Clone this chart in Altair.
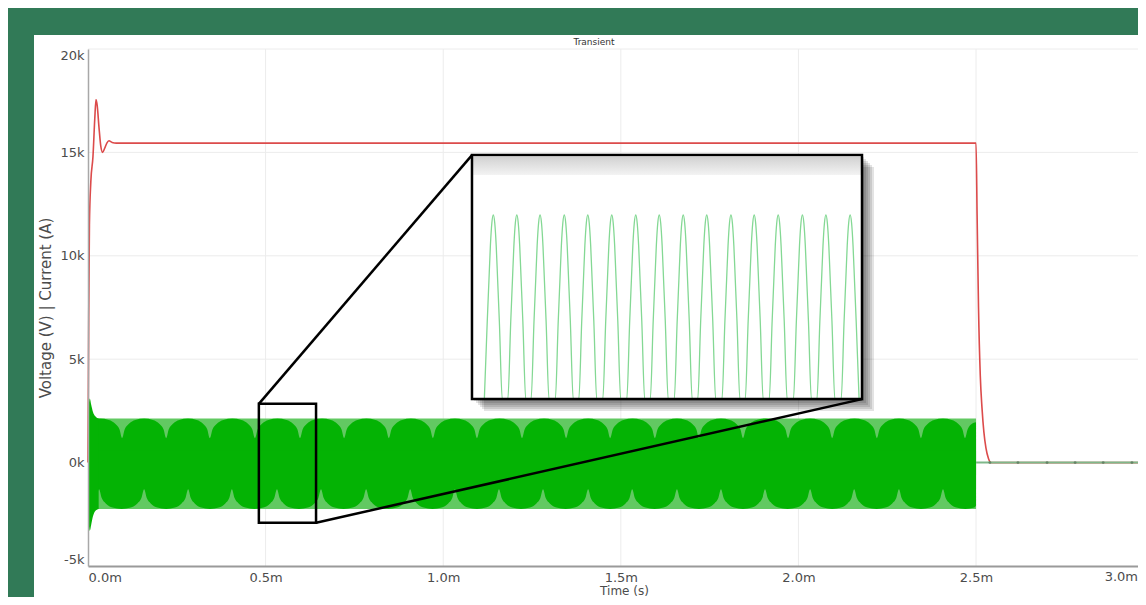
import altair as alt
import pandas as pd

# ---------------- values ----------------
# time in ms, values in V / A
RED_T = [0.000, 0.002, 0.004, 0.008, 0.014, 0.019, 0.0225, 0.026, 0.031, 0.036, 0.041,
         0.047, 0.053, 0.059, 0.068, 0.080, 2.500, 2.503, 2.507, 2.512, 2.517,
         2.522, 2.528, 2.535, 2.542, 2.956]
RED_V = [0, 7000, 11500, 13600, 14800, 16600, 17550, 17250, 16200, 15300, 15000,
         15200, 15450, 15560, 15480, 15450, 15450, 12000, 7500, 4200, 2600,
         1500, 700, 200, 0, 0]

# envelope of the fast current oscillation (light band)
BAND_T = [0.0, 2.5]
BAND_HI = [2130, 2130]
BAND_LO = [-2240, -2240]

# scalloped (dark) region: notch positions on the upper and lower edge
TOP_NOTCH_T = [-0.028, 0.096, 0.220, 0.343, 0.470, 0.597, 0.721, 0.847, 0.971, 1.095,
               1.222, 1.346, 1.470, 1.596, 1.720, 1.844, 1.971, 2.095, 2.221,
               2.345, 2.469, 2.594]
BOT_NOTCH_T = [-0.095, 0.031, 0.158, 0.282, 0.405, 0.532, 0.656, 0.783, 0.907, 1.033,
               1.157, 1.281, 1.408, 1.532, 1.658, 1.782, 1.906, 2.033, 2.157,
               2.283, 2.407, 2.533]
TOP_NOTCH_V, TOP_PEAK_V, TOP_END_V = 1180, 2130, [1950, 1950]
BOT_NOTCH_V, BOT_PEAK_V, BOT_END_V = -1290, -2240, [-2070, -2070]
ARC_F = [0, 0.06, 0.15, 0.30, 0.50, 0.70, 0.85, 0.94, 1.0]
ARC_H = [0, 0.45, 0.72, 0.93, 1.00, 0.93, 0.72, 0.45, 0.0]
ARC_OVERLAP = 600   # the upper and lower dark halves overlap around 0

# start-up transient of the current
TR_T = [0.0, 0.002, 0.005, 0.009, 0.014, 0.020, 0.030]
TR_HI = [0, 2700, 3100, 2800, 2450, 2250, 2130]
TR_LO = [0, -2900, -3300, -3000, -2600, -2350, -2240]

# current after switch-off
ZERO_T = [2.5, 2.956]
ZERO_V = [0, 0]
DOT_T = [2.539, 2.618, 2.700, 2.779, 2.858, 2.939]

# zoom window on the main plot and the callout box (main-plot coordinates)
ZOOM_T = [0.481, 0.642]
ZOOM_V = [-2910, 2840]
BOX_T = [1.081, 2.179]
BOX_V = [3070, 14870]
STRIP_V = [13910, 14780]

# inset content (inset coordinates)
INSET_T = [0.481, 0.642]
INSET_V = [-1410, 3280]
INSET_PEAK_T = [0.4898, 0.4995, 0.5091, 0.5191, 0.5288, 0.5387, 0.5486, 0.5583,
                0.5682, 0.5779, 0.5879, 0.5975, 0.6074, 0.6174, 0.6271, 0.6371]
WAVE_DT = [-0.0037, -0.0025, -0.0018, -0.0012, -0.0006, 0.0,
           0.0006, 0.0012, 0.0018, 0.0025, 0.0037]
WAVE_V = [-1410, 80, 870, 1540, 1975, 2130, 1975, 1540, 870, 80, -1410]

X_TICKS = [0.0, 0.5, 1.0, 1.5, 2.0, 2.5]
Y_TICKS = [-5000, 0, 5000, 10000, 15000, 20000]
EXTRA_X_LABEL = ["3.0m"]
CHART_TITLE = ["Transient"]
SHADOW_STEPS = [2, 4, 6, 8, 10, 12]

# ---------------- tables ----------------
def scallop(notches, notch_v, peak_v, end_v):
    pts = []
    for i, (a, b) in enumerate(zip(notches[:-1], notches[1:])):
        for j, (f, h) in enumerate(zip(ARC_F, ARC_H)):
            if i > 0 and j == 0:
                continue
            pts.append((a + f * (b - a), notch_v + h * (peak_v - notch_v)))
    pts = [p for p in pts if 0.0 < p[0] < 2.5]
    pts = [(0.0, end_v[0])] + pts + [(2.5, end_v[1])]
    return pd.DataFrame(pts, columns=["t", "v"])

top_df = scallop(TOP_NOTCH_T, TOP_NOTCH_V, TOP_PEAK_V, TOP_END_V)
bot_df = scallop(BOT_NOTCH_T, BOT_NOTCH_V, BOT_PEAK_V, BOT_END_V)

wave = []
for p in INSET_PEAK_T:
    for dt, v in zip(WAVE_DT, WAVE_V):
        if INSET_T[0] <= p + dt <= INSET_T[1]:
            wave.append((p + dt, v))
def to_main_t(t):
    return BOX_T[0] + (t - INSET_T[0]) / (INSET_T[1] - INSET_T[0]) * (BOX_T[1] - BOX_T[0])
def to_main_v(v):
    return BOX_V[0] + (v - INSET_V[0]) / (INSET_V[1] - INSET_V[0]) * (BOX_V[1] - BOX_V[0])
wave_df = pd.DataFrame({"t": [to_main_t(t) for t, _ in wave], "v": [to_main_v(v) for _, v in wave]})

red_df = pd.DataFrame({"t": RED_T, "v": RED_V})
band_df = pd.DataFrame({"t": BAND_T, "hi": BAND_HI, "lo": BAND_LO})
tr_df = pd.DataFrame({"t": TR_T, "hi": TR_HI, "lo": TR_LO})
zero_df = pd.DataFrame({"t": ZERO_T, "v": ZERO_V})
dot_df = pd.DataFrame({"t": DOT_T, "v": [0] * len(DOT_T)})
zoom_df = pd.DataFrame({"t": [ZOOM_T[0]], "t2": [ZOOM_T[1]], "v": [ZOOM_V[0]], "v2": [ZOOM_V[1]]})
box_df = pd.DataFrame({"t": [BOX_T[0]], "t2": [BOX_T[1]], "v": [BOX_V[0]], "v2": [BOX_V[1]]})
strip_df = pd.DataFrame({"t": [BOX_T[0]], "t2": [BOX_T[1]], "v": [STRIP_V[0]], "v2": [STRIP_V[1]]})
call_df = pd.DataFrame({"t": [ZOOM_T[0], ZOOM_T[1]], "v": [ZOOM_V[1], ZOOM_V[0]],
                        "t2": [BOX_T[0], BOX_T[1]], "v2": [BOX_V[1], BOX_V[0]]})
xgrid_df = pd.DataFrame({"t": X_TICKS[1:]})
ygrid_df = pd.DataFrame({"v": Y_TICKS[1:]})
lab_df = pd.DataFrame({"txt": EXTRA_X_LABEL})
title_df = pd.DataFrame({"txt": CHART_TITLE})

# ---------------- layout ----------------
W, H = 1050, 517
FONT = "DejaVu Sans"
GREY = "#4c4c4c"
XS = alt.Scale(domain=[0, 2.956], nice=False, zero=False)
YS = alt.Scale(domain=[-5000, 20000], nice=False, zero=False)
XA = alt.Axis(values=X_TICKS, labelExpr="format(datum.value, '.1f') + 'm'", labelFlush=True,
              ticks=False, grid=False, domainColor="#9a9a9a", domainWidth=2,
              labelPadding=5, labelFontSize=13, labelFont=FONT, labelColor=GREY,
              title="Time (s)", titleFont=FONT, titleFontSize=12, titleFontWeight="normal",
              titleColor=GREY, titleX=536, titleY=19, titleBaseline="top", zindex=1)
YA = alt.Axis(values=Y_TICKS, labelExpr="datum.value / 1000 + 'k'", labelFlush=True,
              ticks=False, grid=False, domainColor="#a8a8a8", domainWidth=1.5,
              labelPadding=4, labelFontSize=13, labelFont=FONT, labelColor=GREY,
              title="Voltage (V) | Current (A)", titleFont=FONT, titleFontSize=15,
              titleFontWeight="normal", titleColor=GREY, titleX=-43, titleY=H / 2,
              titleAngle=270, titleBaseline="middle", titleAlign="center", zindex=1)

def X(f):
    return alt.X(f, type="quantitative", scale=XS, axis=XA)
def Y(f):
    return alt.Y(f, type="quantitative", scale=YS, axis=YA)

DARK = "#04b304"
LIGHT = "#62c962"

panel = alt.Chart(pd.DataFrame({"a": [0]})).mark_rect(color="white").encode(
    x=alt.value(-54), x2=alt.value(W + 20), y=alt.value(-14), y2=alt.value(H + 60))
title_txt = alt.Chart(title_df).mark_text(font=FONT, fontSize=9, color="#333333",
                                          align="center", baseline="middle").encode(
    x=alt.value(506), y=alt.value(-7), text="txt:N")
xgrid = alt.Chart(xgrid_df).mark_rule(color="#ececec", strokeWidth=1).encode(x=X("t"))
ygrid = alt.Chart(ygrid_df).mark_rule(color="#ececec", strokeWidth=1).encode(y=Y("v"))
band = alt.Chart(band_df).mark_area(color=LIGHT).encode(x=X("t"), y=Y("hi"), y2="lo")
top_area = alt.Chart(top_df).mark_area(color=DARK, interpolate="monotone").encode(
    x=X("t"), y=Y("v"), y2=alt.datum(-ARC_OVERLAP))
bot_area = alt.Chart(bot_df).mark_area(color=DARK, interpolate="monotone").encode(
    x=X("t"), y=Y("v"), y2=alt.datum(ARC_OVERLAP))
trans = alt.Chart(tr_df).mark_area(color=DARK, interpolate="monotone").encode(
    x=X("t"), y=Y("hi"), y2="lo")
red = alt.Chart(red_df).mark_line(color="#dc4b4b", strokeWidth=1.6, interpolate="monotone").encode(
    x=X("t"), y=Y("v"))
zero = alt.Chart(zero_df).mark_line(color="#7fb88a", strokeWidth=2).encode(x=X("t"), y=Y("v"))
dots = alt.Chart(dot_df).mark_point(color="#5a7a5e", filled=True, size=8, opacity=0.8).encode(
    x=X("t"), y=Y("v"))
zoom_rect = alt.Chart(zoom_df).mark_rect(fillOpacity=0, stroke="black", strokeWidth=2.5).encode(
    x=X("t"), x2="t2", y=Y("v"), y2="v2")
callout = alt.Chart(call_df).mark_rule(color="black", strokeWidth=2.5).encode(
    x=X("t"), y=Y("v"), x2="t2", y2="v2")
shadows = [alt.Chart(box_df).mark_rect(color="black", opacity=0.11, xOffset=k, x2Offset=k,
                                        yOffset=k, y2Offset=k).encode(
    x=X("t"), x2="t2", y=Y("v"), y2="v2") for k in SHADOW_STEPS]
box_fill = alt.Chart(box_df).mark_rect(color="white").encode(x=X("t"), x2="t2", y=Y("v"), y2="v2")
strip = alt.Chart(strip_df).mark_rect(
    color=alt.Gradient(gradient="linear",
                       stops=[alt.GradientStop(color="#d2d2d2", offset=0),
                              alt.GradientStop(color="#f3f3f3", offset=1)],
                       x1=0, x2=0, y1=0, y2=1)).encode(x=X("t"), x2="t2", y=Y("v"), y2="v2")
wave_line = alt.Chart(wave_df).mark_line(color="#84d894", strokeWidth=1.3, interpolate="monotone").encode(
    x=X("t"), y=Y("v"), order="t:Q")
box_border = alt.Chart(box_df).mark_rect(fillOpacity=0, stroke="black", strokeWidth=2.5).encode(
    x=X("t"), x2="t2", y=Y("v"), y2="v2")
label3 = alt.Chart(lab_df).mark_text(align="right", baseline="top", font=FONT, fontSize=13,
                                     color=GREY).encode(x=alt.value(W), y=alt.value(H + 5), text="txt:N")

chart = alt.layer(
    panel, title_txt, xgrid, ygrid, band, top_area, bot_area, trans, red, zero, dots,
    zoom_rect, callout, *shadows, box_fill, strip, wave_line, box_border, label3
).properties(
    width=W, height=H,
    padding={"left": 80, "top": 41, "right": 0, "bottom": 31},
    autosize=alt.AutoSizeParams(type="none"),
    background="#317a57",
).configure_view(strokeWidth=0)

chart.save("out.html", embed_options={"renderer": "svg", "actions": False})
